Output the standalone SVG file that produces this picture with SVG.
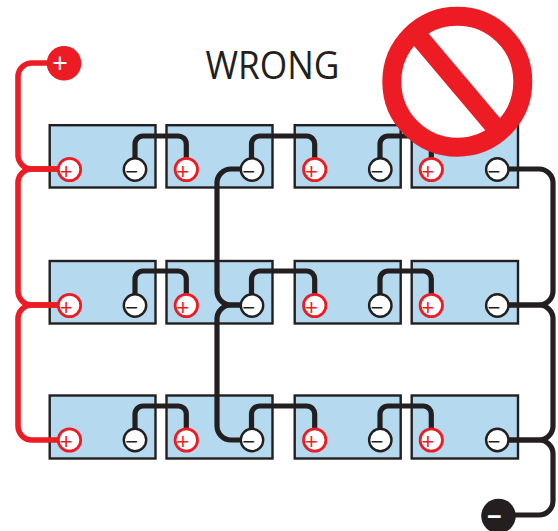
<svg xmlns="http://www.w3.org/2000/svg" width="558" height="531" viewBox="0 0 558 531">
<style>
.bat{fill:#b5d9ee;stroke:#231f20;stroke-width:2.4}
.blk,.red{fill:none;stroke-linecap:butt}
.blk{stroke:#231f20;stroke-width:5.200}
.red{stroke:#ed1c24;stroke-width:5.600}
.tp{fill:#fff;stroke:#ed1c24;stroke-width:2.800}
.tn{fill:#fff;stroke:#231f20;stroke-width:2.400}
.g{font-family:"Liberation Sans",Arial,sans-serif;font-size:22px;text-anchor:middle}
.gp{fill:#ed1c24}
.gn{fill:#231f20}
</style>
<defs>
<g id="plus"><circle class="tp" r="11.200"/><text class="g gp" x="-3.300" y="9">+</text></g>
<g id="minus"><circle class="tn" r="11.200"/><text class="g gn" x="-3.300" y="9">−</text></g>
</defs>
<g id="batteries">
<g id="battery-1-1"><rect class="bat" x="49.700" y="125.200" width="105.800" height="62.300"/></g>
<g id="battery-1-2"><rect class="bat" x="166.500" y="125.200" width="106" height="62.300"/></g>
<g id="battery-1-3"><rect class="bat" x="294.700" y="125.200" width="106" height="62.300"/></g>
<g id="battery-1-4"><rect class="bat" x="411.700" y="125.200" width="106.300" height="62.300"/></g>
<g id="battery-2-1"><rect class="bat" x="49.700" y="261" width="105.800" height="62.500"/></g>
<g id="battery-2-2"><rect class="bat" x="166.500" y="261" width="106" height="62.500"/></g>
<g id="battery-2-3"><rect class="bat" x="294.700" y="261" width="106" height="62.500"/></g>
<g id="battery-2-4"><rect class="bat" x="411.700" y="261" width="106.300" height="62.500"/></g>
<g id="battery-3-1"><rect class="bat" x="49.700" y="395.500" width="105.800" height="63"/></g>
<g id="battery-3-2"><rect class="bat" x="166.500" y="395.500" width="106" height="63"/></g>
<g id="battery-3-3"><rect class="bat" x="294.700" y="395.500" width="106" height="63"/></g>
<g id="battery-3-4"><rect class="bat" x="411.700" y="395.500" width="106.300" height="63"/></g>
</g>
<g id="connectors">
<path class="red" d="M64 63H32a14 14 0 0 0-14 14V155a14 14 0 0 0 14 14H69"/>
<path class="red" d="M69 169H32a14 14 0 0 0-14 14V291a14 14 0 0 0 14 14H69"/>
<path class="red" d="M69 305H32a14 14 0 0 0-14 14V426a14 14 0 0 0 14 14H69"/>
<path class="blk" d="M135 169V144a8 8 0 0 1 8-8H178a8 8 0 0 1 8.300 8V169"/>
<path class="blk" d="M251.500 169V144a8 8 0 0 1 8-8H306.700a8 8 0 0 1 8 8V169"/>
<path class="blk" d="M380 169V144a8 8 0 0 1 8-8H423.300a8 8 0 0 1 8 8V169"/>
<path class="blk" d="M135 305V279a8 8 0 0 1 8-8H178a8 8 0 0 1 8.300 8V305"/>
<path class="blk" d="M251.500 305V279a8 8 0 0 1 8-8H306.700a8 8 0 0 1 8 8V305"/>
<path class="blk" d="M380 305V279a8 8 0 0 1 8-8H423.300a8 8 0 0 1 8 8V305"/>
<path class="blk" d="M135 440V414a8 8 0 0 1 8-8H178a8 8 0 0 1 8.300 8V440"/>
<path class="blk" d="M251.500 440V414a8 8 0 0 1 8-8H306.700a8 8 0 0 1 8 8V440"/>
<path class="blk" d="M380 440V414a8 8 0 0 1 8-8H423.300a8 8 0 0 1 8 8V440"/>
<path class="blk" d="M252 169H231a14 14 0 0 0-14 14V291a14 14 0 0 0 14 14H252"/>
<path class="blk" d="M252 305H231a14 14 0 0 0-14 14V426a14 14 0 0 0 14 14H252"/>
<path class="blk" d="M497 169H539a14 14 0 0 1 14 14V291a14 14 0 0 1-14 14H497"/>
<path class="blk" d="M497 305H539a14 14 0 0 1 14 14V426a14 14 0 0 1-14 14H497"/>
<path class="blk" d="M497 440H539a14 14 0 0 1 14 14V501a14 14 0 0 1-14 14H498"/>
</g>
<g id="terminals">
<use href="#plus" x="69.500" y="169.500"/><use href="#minus" x="135" y="169.500"/><use href="#plus" x="186.300" y="169.500"/><use href="#minus" x="252" y="169.500"/><use href="#plus" x="314.700" y="169.500"/><use href="#minus" x="380.300" y="169.500"/><use href="#plus" x="431.300" y="169.500"/><use href="#minus" x="497.300" y="169.500"/>
<use href="#plus" x="69.500" y="305.500"/><use href="#minus" x="135" y="305.500"/><use href="#plus" x="186.300" y="305.500"/><use href="#minus" x="252" y="305.500"/><use href="#plus" x="314.700" y="305.500"/><use href="#minus" x="380.300" y="305.500"/><use href="#plus" x="431.300" y="305.500"/><use href="#minus" x="497.300" y="305.500"/>
<use href="#plus" x="69.500" y="440"/><use href="#minus" x="135" y="440"/><use href="#plus" x="186.300" y="440"/><use href="#minus" x="252" y="440"/><use href="#plus" x="314.700" y="440"/><use href="#minus" x="380.300" y="440"/><use href="#plus" x="431.300" y="440"/><use href="#minus" x="497.300" y="440"/>
</g>
<g id="positive-pole">
<circle cx="64" cy="63.300" r="17.300" fill="#ed1c24"/>
<text x="60" y="72" font-family="Liberation Sans, Arial, sans-serif" font-size="27" text-anchor="middle" fill="#fff">+</text>
</g>
<g id="negative-pole">
<circle cx="498.500" cy="516" r="17.300" fill="#231f20"/>
<text x="494.300" y="525" font-family="Liberation Sans, Arial, sans-serif" font-size="25" font-weight="700" text-anchor="middle" fill="#fff">−</text>
</g>
<g id="prohibited-sign">
<circle cx="457.300" cy="81.700" r="65.500" fill="#fff" stroke="#ed1c24" stroke-width="19"/>
<line x1="419" y1="37" x2="495" y2="127" stroke="#ed1c24" stroke-width="19"/>
</g>
<text id="title" x="272.500" y="79" font-family="Open Sans, Noto Sans, sans-serif" font-size="38" text-anchor="middle" fill="#231f20" textLength="134" lengthAdjust="spacingAndGlyphs">WRONG</text>
</svg>
